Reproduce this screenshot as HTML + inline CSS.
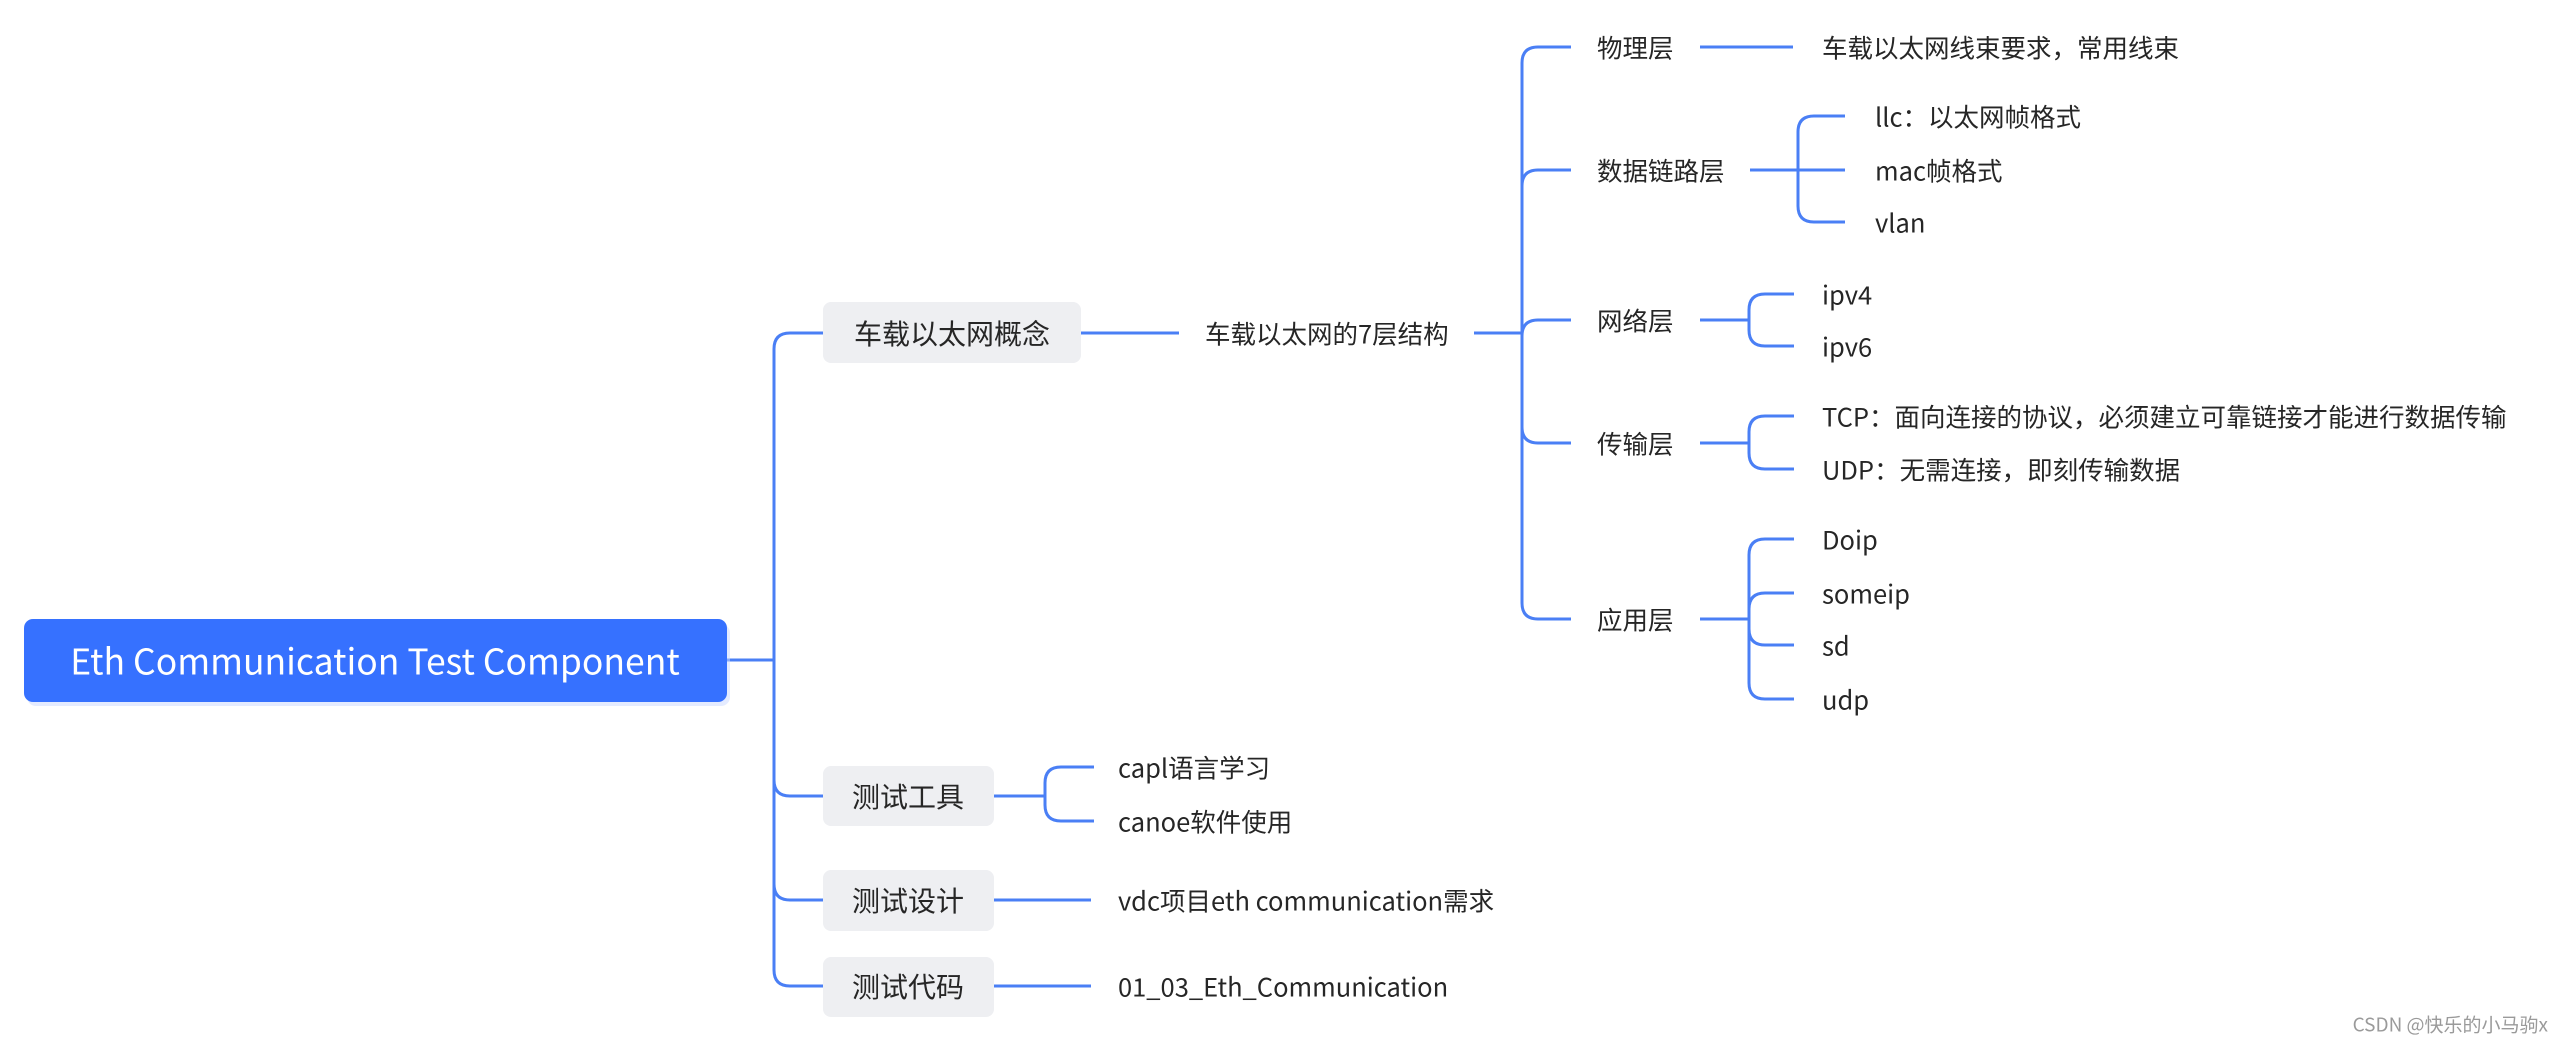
<!DOCTYPE html>
<html><head><meta charset="utf-8"><style>
html,body{margin:0;padding:0;background:#fff;width:2560px;height:1042px;overflow:hidden}
svg text{font-family:"Noto Sans CJK SC","Liberation Sans",sans-serif;fill:#262626;dominant-baseline:central}
</style></head><body>
<svg width="2560" height="1042" xmlns="http://www.w3.org/2000/svg">
<g fill="none" stroke="#4a7ff5" stroke-width="3">
<path d="M727,660 L774,660"/>
<path d="M774,660 L774,349 Q774,333 790,333 L823,333"/>
<path d="M774,660 L774,970 Q774,986 790,986 L823,986"/>
<path d="M774,780 Q774,796 790,796 L823,796"/>
<path d="M774,884 Q774,900 790,900 L823,900"/>
<path d="M1081,333 L1179,333"/>
<path d="M1474,333 L1522,333"/>
<path d="M1522,333 L1522,63 Q1522,47 1538,47 L1571,47"/>
<path d="M1522,333 L1522,603 Q1522,619 1538,619 L1571,619"/>
<path d="M1522,186 Q1522,170 1538,170 L1571,170"/>
<path d="M1522,336 Q1522,320 1538,320 L1571,320"/>
<path d="M1522,427 Q1522,443 1538,443 L1571,443"/>
<path d="M1700,47 L1793,47"/>
<path d="M1750,170 L1845,170"/>
<path d="M1798,170 L1798,132 Q1798,116 1814,116 L1845,116"/>
<path d="M1798,170 L1798,206 Q1798,222 1814,222 L1845,222"/>
<path d="M1700,320 L1749,320"/>
<path d="M1749,320 L1749,310 Q1749,294 1765,294 L1794,294"/>
<path d="M1749,320 L1749,330 Q1749,346 1765,346 L1794,346"/>
<path d="M1700,443 L1749,443"/>
<path d="M1749,443 L1749,432 Q1749,416 1765,416 L1794,416"/>
<path d="M1749,443 L1749,453 Q1749,469 1765,469 L1794,469"/>
<path d="M1700,619 L1749,619"/>
<path d="M1749,619 L1749,555 Q1749,539 1765,539 L1794,539"/>
<path d="M1749,619 L1749,683 Q1749,699 1765,699 L1794,699"/>
<path d="M1749,609 Q1749,593 1765,593 L1794,593"/>
<path d="M1749,629 Q1749,645 1765,645 L1794,645"/>
<path d="M994,796 L1045,796"/>
<path d="M1045,796 L1045,783 Q1045,767 1061,767 L1094,767"/>
<path d="M1045,796 L1045,805 Q1045,821 1061,821 L1094,821"/>
<path d="M994,900 L1091,900"/>
<path d="M994,986 L1091,986"/>
</g>
<rect x="27" y="624" width="703" height="82" rx="9" fill="#c9d8ff" opacity="0.5"/>
<rect x="24" y="619" width="703" height="83" rx="9" fill="#3671ff"/>
<text x="375" y="660" text-anchor="middle" font-size="35.5" style="fill:#fff">Eth Communication Test Component</text>
<g fill="#eeeff2">
<rect x="823" y="302" width="258" height="61" rx="8"/>
<rect x="823" y="766" width="171" height="60" rx="8"/>
<rect x="823" y="870" width="171" height="61" rx="8"/>
<rect x="823" y="957" width="171" height="60" rx="8"/>
</g>
<g font-size="28">
<text x="952" y="333" text-anchor="middle">车载以太网概念</text>
<text x="908" y="796" text-anchor="middle">测试工具</text>
<text x="908" y="900" text-anchor="middle">测试设计</text>
<text x="908" y="986" text-anchor="middle">测试代码</text>
</g>
<g font-size="25.5">
<text x="1205" y="333">车载以太网的7层结构</text>
<text x="1597" y="47">物理层</text>
<text x="1597" y="170">数据链路层</text>
<text x="1597" y="320">网络层</text>
<text x="1597" y="443">传输层</text>
<text x="1597" y="619">应用层</text>
<text x="1822" y="47">车载以太网线束要求，常用线束</text>
<text x="1875" y="116">llc：以太网帧格式</text>
<text x="1875" y="170">mac帧格式</text>
<text x="1875" y="222">vlan</text>
<text x="1822" y="294">ipv4</text>
<text x="1822" y="346">ipv6</text>
<text x="1822" y="416">TCP：面向连接的协议，必须建立可靠链接才能进行数据传输</text>
<text x="1822" y="469">UDP：无需连接，即刻传输数据</text>
<text x="1822" y="539">Doip</text>
<text x="1822" y="593">someip</text>
<text x="1822" y="645">sd</text>
<text x="1822" y="699">udp</text>
<text x="1118" y="767">capl语言学习</text>
<text x="1118" y="821">canoe软件使用</text>
<text x="1118" y="900">vdc项目eth communication需求</text>
<text x="1118" y="986">01_03_Eth_Communication</text>
</g>
<text x="2548" y="1024" text-anchor="end" font-size="19" style="fill:#9a9a9a">CSDN @快乐的小马驹x</text>
</svg>
</body></html>
